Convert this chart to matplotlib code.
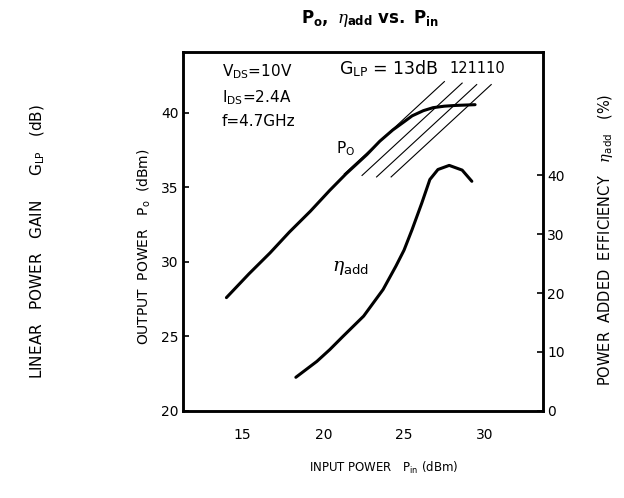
import matplotlib
matplotlib.use("Agg")
import matplotlib.pyplot as plt

plt.rcParams["font.family"] = ["DejaVu Sans"]
plt.rcParams["mathtext.fontset"] = "custom"
plt.rcParams["mathtext.rm"] = "DejaVu Sans"
plt.rcParams["mathtext.it"] = "DejaVu Serif:italic"
plt.rcParams["mathtext.bf"] = "DejaVu Sans:bold"

# ── Datos ─────────────────────────────────────────────────────────────
pin_po = [14.0, 15.4, 16.7, 17.9, 19.2, 20.4, 21.4, 22.1, 22.7, 23.5,
          24.3, 25.0, 25.5, 26.2, 26.8, 27.5, 28.2, 29.4]
po_dbm = [27.6, 29.2, 30.6, 32.0, 33.4, 34.8, 35.9, 36.6, 37.2, 38.1,
          38.85, 39.4, 39.8, 40.15, 40.35, 40.45, 40.5, 40.55]

pin_eta = [18.3, 19.6, 20.4, 21.2, 22.5, 23.7, 24.5, 25.0, 25.5, 26.1,
           26.6, 27.1, 27.8, 28.6, 29.2]
eta_pct = [5.7, 8.4, 10.4, 12.6, 16.1, 20.6, 24.6, 27.3, 30.8, 35.3,
           39.3, 41.0, 41.7, 40.9, 39.0]

# rectas de ganancia lineal: Po - Pin, tramo en Pin
glp_labels = ["13dB", "12", "11", "10"]
glp_offset = [14.6, 13.4, 12.4, 11.5]
glp_x0 = [21.3, 22.4, 23.3, 24.2]
glp_x1 = [27.5, 28.6, 29.5, 30.4]

x_ticks = [15, 20, 25, 30]
po_ticks = [20, 25, 30, 35, 40]
eta_ticks = [0, 10, 20, 30, 40]

# ── Figura ────────────────────────────────────────────────────────────
fig = plt.figure(figsize=(6.24, 4.98), dpi=100)
ax = fig.add_axes([0.293, 0.175, 0.577, 0.721])
ax2 = ax.twinx()

ax.plot(pin_po, po_dbm, color="black", lw=2.2, solid_capstyle="round", zorder=4)
ax2.plot(pin_eta, eta_pct, color="black", lw=2.2, solid_capstyle="round", zorder=4)

for off, x0, x1 in zip(glp_offset, glp_x0, glp_x1):
    ax.plot([x0, x1], [x0 + off, x1 + off], color="black", lw=0.8, zorder=3)

ax.set_xlim(11.3, 33.6)
ax.set_ylim(20, 44.1)
ax2.set_ylim(0, 61)

ax.set_xticks(x_ticks)
ax.set_yticks(po_ticks)
ax2.set_yticks(eta_ticks)
ax.tick_params(axis="x", length=0, labelsize=10, pad=12)
ax.tick_params(axis="y", direction="in", length=4, width=1.2, labelsize=10, pad=3)
ax2.tick_params(axis="y", direction="in", length=4, width=1.2, labelsize=10, pad=3)

for a in (ax, ax2):
    for s in a.spines.values():
        s.set_linewidth(1.8)

# ── Textos ────────────────────────────────────────────────────────────
fs = 11
ax.text(0.108, 0.944, r"V$_{\mathrm{DS}}$=10V", transform=ax.transAxes,
        fontsize=fs, va="center", ha="left")
ax.text(0.108, 0.872, r"I$_{\mathrm{DS}}$=2.4A", transform=ax.transAxes,
        fontsize=fs, va="center", ha="left")
ax.text(0.108, 0.805, "f=4.7GHz", transform=ax.transAxes,
        fontsize=fs, va="center", ha="left")

y_lbl = 43.0
ax.text(21.0, y_lbl, r"G$_{\mathrm{LP}}$ = " + glp_labels[0],
        fontsize=12.5, va="center", ha="left")
ax.text(27.8, y_lbl, "".join(glp_labels[1:]),
        fontsize=10.5, va="center", ha="left")

ax.text(0.425, 0.73, r"P$_{\mathrm{O}}$", transform=ax.transAxes,
        fontsize=fs, va="center", ha="left")
ax.text(0.415, 0.40, r"$\eta_{\mathrm{add}}$", transform=ax.transAxes,
        fontsize=13.5, va="center", ha="left")

fig.text(0.593, 0.963, r"$\mathbf{P_o,}$ $\eta_{\mathbf{add}}$ $\mathbf{vs.\ P_{in}}$",
         ha="center", va="center", fontsize=12, fontweight="bold")

fig.text(0.615, 0.06, r"INPUT POWER   P$_{\mathrm{in}}$ (dBm)",
         ha="center", va="center", fontsize=8.5)
fig.text(0.231, 0.504, r"OUTPUT  POWER   P$_{\mathrm{o}}$  (dBm)",
         ha="center", va="center", fontsize=10, rotation=90)
fig.text(0.059, 0.516, r"LINEAR   POWER   GAIN     G$_{\mathrm{LP}}$   (dB)",
         ha="center", va="center", fontsize=11, rotation=90)
fig.text(0.971, 0.518, r"POWER  ADDED  EFFICIENCY   $\eta_{\mathrm{add}}$   (%)",
         ha="center", va="center", fontsize=10.5, rotation=90)

fig.savefig("out.png", dpi=100, facecolor="white")
